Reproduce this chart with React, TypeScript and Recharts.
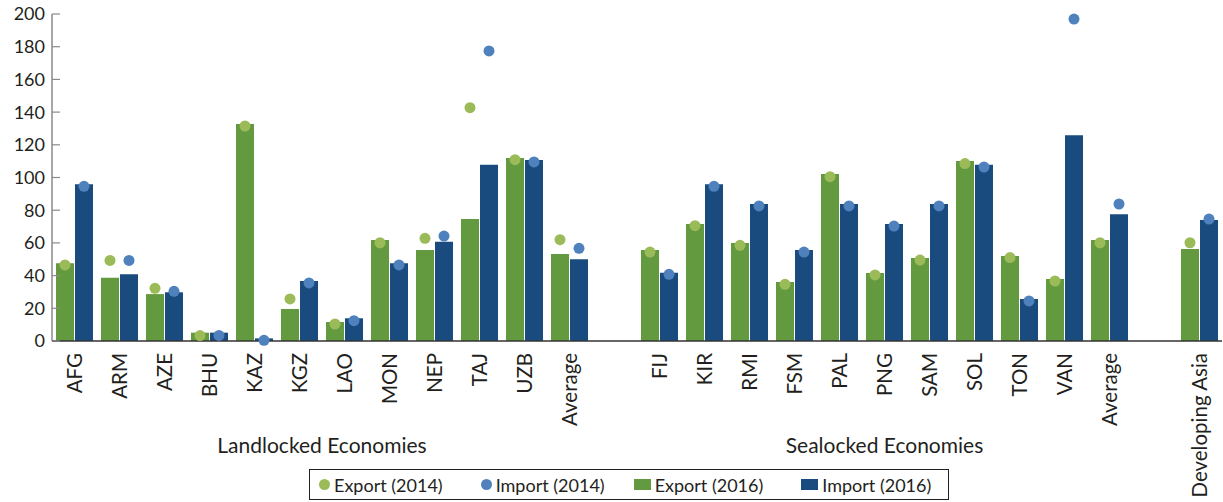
import React from 'react';
import { ComposedChart, Bar, Scatter, XAxis, YAxis } from 'recharts';

// ---------- data ----------
const landlocked = ['AFG', 'ARM', 'AZE', 'BHU', 'KAZ', 'KGZ', 'LAO', 'MON', 'NEP', 'TAJ', 'UZB', 'Average'];
const landExport2016 = [47.5, 38.7, 28.7, 5.1, 132.7, 19.6, 11.6, 61.8, 55.7, 74.6, 111.9, 53.2];
const landImport2016 = [95.8, 40.8, 29.8, 5.1, 1.6, 36.7, 13.9, 47.5, 60.7, 107.8, 110.7, 50.0];
const landExport2014 = [46.5, 49.3, 32.2, 3.3, 131.5, 25.7, 10.4, 60.1, 62.8, 142.7, 110.9, 62.0];
const landImport2014 = [94.6, 49.3, 30.4, 3.4, 0.4, 35.5, 12.4, 46.5, 64.2, 177.4, 109.5, 56.7];

const sealocked = ['FIJ', 'KIR', 'RMI', 'FSM', 'PAL', 'PNG', 'SAM', 'SOL', 'TON', 'VAN', 'Average'];
const seaExport2016 = [55.7, 71.6, 59.9, 36.1, 102.1, 41.6, 50.8, 110.1, 52.0, 37.9, 61.8];
const seaImport2016 = [41.8, 95.8, 83.8, 55.7, 83.8, 71.6, 83.8, 107.8, 25.7, 125.8, 77.5];
const seaExport2014 = [54.4, 70.5, 58.5, 34.7, 100.5, 40.4, 49.5, 108.5, 51.0, 36.7, 60.1];
const seaImport2014 = [40.8, 94.6, 82.6, 54.4, 82.6, 70.3, 82.6, 106.4, 24.5, 196.9, 83.8];

const asiaLabel = 'Developing Asia';
const asiaExport2016 = 56.3;
const asiaImport2016 = 74.0;
const asiaExport2014 = 60.1;
const asiaImport2014 = 74.6;

const groupNames = ['Landlocked Economies', 'Sealocked Economies'];
const yTicks = [0, 20, 40, 60, 80, 100, 120, 140, 160, 180, 200];

// ---------- styles ----------
const C_EX16 = '#639a3f';
const C_IM16 = '#1a4b7f';
const C_EX14 = '#9bbb59';
const C_IM14 = '#4f81bd';
const TEXT = '#231f20';
const FONT = 'Lato, "Open Sans", sans-serif';
const BAR_SIZE = 18;
const BAR_GAP = 1;
const DOT_SHIFT = (BAR_SIZE + BAR_GAP) / 2;

type Row = {
  key: string;
  label: string;
  ex16?: number;
  im16?: number;
  ex14?: number;
  im14?: number;
};

const rows: Row[] = [];
landlocked.forEach((c, i) =>
  rows.push({ key: '', label: c, ex16: landExport2016[i], im16: landImport2016[i], ex14: landExport2014[i], im14: landImport2014[i] })
);
rows.push({ key: '', label: '' });
sealocked.forEach((c, i) =>
  rows.push({ key: '', label: c, ex16: seaExport2016[i], im16: seaImport2016[i], ex14: seaExport2014[i], im14: seaImport2014[i] })
);
rows.push({ key: '', label: '' });
rows.push({ key: '', label: asiaLabel, ex16: asiaExport2016, im16: asiaImport2016, ex14: asiaExport2014, im14: asiaImport2014 });
rows.forEach((r, i) => (r.key = String(i)));

// group spans, in category indices
const groupSpans = [
  [0, landlocked.length],
  [landlocked.length + 1, landlocked.length + 1 + sealocked.length],
];

const CategoryTick = (props: any) => {
  const { x, y, payload } = props;
  const label = rows[Number(payload.value)]?.label ?? '';
  return (
    <text
      transform={`translate(${x + 7.5},${y + 12}) rotate(-90)`}
      textAnchor="end"
      fontSize={20.5}
      fontFamily={FONT}
      fill={TEXT}
    >
      {label}
    </text>
  );
};

// group label: drawn on a second category axis, centred over each group's band span
const GroupTick = (props: any) => {
  const { x, y, payload, width, visibleTicksCount } = props;
  const idx = Number(payload.value);
  const band = width / visibleTicksCount;
  const g = groupSpans.findIndex((s) => s[0] === idx);
  if (g < 0) return <g />;
  const span = groupSpans[g][1] - groupSpans[g][0];
  const cx = x + ((span - 1) / 2) * band;
  return (
    <text x={cx} y={y + 22} textAnchor="middle" fontSize={21} fontFamily={FONT} fill={TEXT}>
      {groupNames[g]}
    </text>
  );
};

const YTick = (props: any) => {
  const { x, y, payload } = props;
  return (
    <g>
      <line x1={x} x2={x + 8} y1={y} y2={y} stroke="#8a8a8a" strokeWidth={1.2} />
      <text x={x - 7} y={y} dy="0.36em" textAnchor="end" fontSize={18} fontFamily={FONT} fill={TEXT}>
        {payload.value}
      </text>
    </g>
  );
};

const makeDot = (color: string, shift: number) => (props: any) => {
  const { cx, cy } = props;
  if (!Number.isFinite(cx) || !Number.isFinite(cy)) return <g />;
  return <circle cx={cx + shift} cy={cy} r={5.5} fill={color} />;
};

const LegendBox = () => {
  const item = (marker: React.ReactNode, text: string, ml: number) => (
    <span style={{ display: 'inline-flex', alignItems: 'center', marginLeft: ml }}>
      {marker}
      <span style={{ marginLeft: 4 }}>{text}</span>
    </span>
  );
  const dot = (c: string) => (
    <span style={{ width: 11, height: 11, borderRadius: '50%', background: c, display: 'inline-block' }} />
  );
  const sq = (c: string) => <span style={{ width: 17, height: 11, background: c, display: 'inline-block' }} />;
  return (
    <div
      style={{
        position: 'absolute',
        left: 309,
        top: 469,
        width: 640,
        height: 31,
        boxSizing: 'border-box',
        border: '1.5px solid #231f20',
        fontFamily: FONT,
        fontSize: 18,
        color: TEXT,
        display: 'flex',
        alignItems: 'center',
        whiteSpace: 'nowrap',
      }}
    >
      {item(dot(C_EX14), 'Export (2014)', 9)}
      {item(dot(C_IM14), 'Import (2014)', 38)}
      {item(sq(C_EX16), 'Export (2016)', 29)}
      {item(sq(C_IM16), 'Import (2016)', 38)}
    </div>
  );
};

export default function App() {
  return (
    <div style={{ position: 'absolute', left: 0, top: 0, width: 1223, height: 502, background: '#fff' }}>
      <ComposedChart
        width={1223}
        height={502}
        data={rows}
        margin={{ top: 14, right: 1, left: 0, bottom: 41 }}
        barGap={BAR_GAP}
      >
        <YAxis
          width={52}
          domain={[0, 200]}
          ticks={yTicks}
          interval={0}
          tickSize={0}
          tickMargin={0}
          tickLine={false}
          axisLine={{ stroke: '#8a8a8a', strokeWidth: 1.5 }}
          tick={<YTick />}
        />
        <XAxis
          dataKey="key"
          type="category"
          interval={0}
          height={90}
          tickSize={0}
          tickMargin={0}
          tickLine={false}
          axisLine={{ stroke: '#333333', strokeWidth: 1.5 }}
          tick={<CategoryTick />}
        />
        <XAxis
          xAxisId="grp"
          dataKey="key"
          type="category"
          interval={0}
          height={30}
          tickSize={0}
          tickMargin={0}
          tickLine={false}
          axisLine={false}
          tick={<GroupTick />}
        />
        <Bar dataKey="ex16" name="Export (2016)" fill={C_EX16} barSize={BAR_SIZE} isAnimationActive={false} />
        <Bar dataKey="im16" name="Import (2016)" fill={C_IM16} barSize={BAR_SIZE} isAnimationActive={false} />
        <Scatter dataKey="ex14" name="Export (2014)" fill={C_EX14} shape={makeDot(C_EX14, -DOT_SHIFT)} isAnimationActive={false} />
        <Scatter dataKey="im14" name="Import (2014)" fill={C_IM14} shape={makeDot(C_IM14, DOT_SHIFT)} isAnimationActive={false} />
      </ComposedChart>
      <LegendBox />
    </div>
  );
}
